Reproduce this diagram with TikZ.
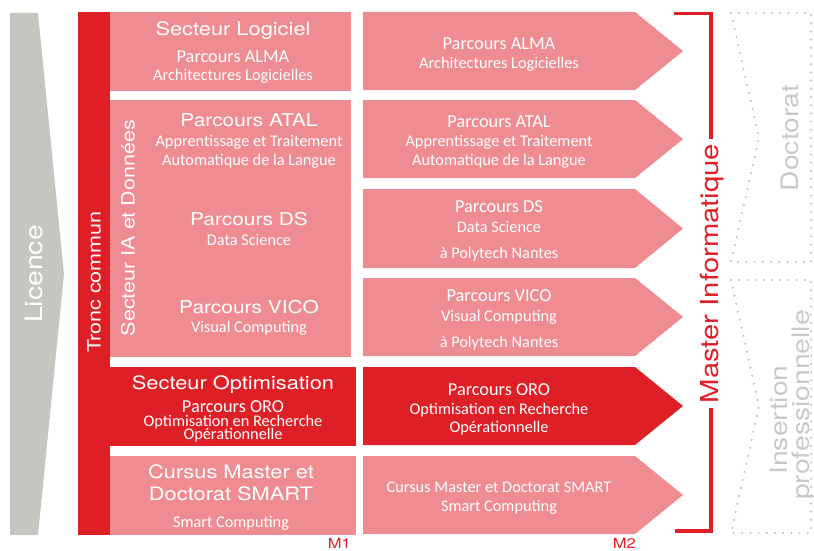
\documentclass[tikz,border=0pt]{standalone}
\usepackage{fontspec}
\setmainfont{Carlito}
\newfontfamily\headfont[FakeStretch=1.18]{TeX Gyre Heros}
\definecolor{masterred}{HTML}{DF1F26}
\definecolor{masterpink}{HTML}{EE8C92}
\definecolor{licencegrey}{HTML}{C5C6C0}
\definecolor{lightgrey}{HTML}{C9C9C5}
\definecolor{dotgrey}{HTML}{BDBDBB}

\begin{document}
\begin{tikzpicture}
	[
		x = 1pt, y = -1pt,
		txt/.style = {inner sep=0pt, anchor=center, text=white},
		head/.style = {txt, font=\headfont\fontsize{18.5}{20}\selectfont, text height=13.3pt, text depth=0pt},
		phead/.style = {txt, font=\headfont\fontsize{17.7}{19}\selectfont, text height=12.7pt, text depth=0pt},
		pname/.style = {txt, font=\fontsize{18.3}{19}\selectfont, text height=11.8pt, text depth=0pt},
		desc/.style = {txt, font=\fontsize{16.3}{17}\selectfont, text height=10.5pt, text depth=0pt},
		bigv/.style = {txt, rotate=90, font=\headfont\fontsize{24}{24}\selectfont, text height=17.2pt, text depth=0pt},
		smallv/.style = {txt, rotate=90, font=\headfont\fontsize{18.3}{19}\selectfont, text height=13.1pt, text depth=0pt},
		dots/.style = {draw=dotgrey, line width=2.2pt, line cap=round, dash pattern=on 0pt off 8.2pt},
		year/.style = {txt, text=masterred, font=\headfont\fontsize{14}{14}\selectfont, text height=10pt, text depth=0pt, anchor=east}
	]
	
	\useasboundingbox (0,0) rectangle (814,551);
	
	% licence
	\fill [licencegrey] (10,13) -- (38,13) -- (64,274) -- (38,535) -- (10,535) -- cycle;
	\node [bigv] (licence) at (34,274) {Licence};
	
	% tronc commun
	\fill [masterred] (78,12) rectangle (110,535);
	\node [smallv] (tronc) at (94,282) {Tronc commun};
	
	% M1
	\fill [masterpink] (110,12) rectangle (351,91);
	\node [head] (seclog) at (233,29.3) {Secteur Logiciel};
	\node [pname] (alma1) at (233,56.5) {Parcours ALMA};
	\node [desc] (alma1d) at (233,75) {Architectures Logicielles};
	
	\fill [masterpink] (110,100) rectangle (351,357);
	\node [smallv] (secia) at (128,228) {Secteur IA et Données};
	\node [phead] (atal1) at (249,120) {Parcours ATAL};
	\node [desc] (atal1a) at (249,141) {Apprentissage et Traitement};
	\node [desc] (atal1b) at (249,160) {Automatique de la Langue};
	\node [phead] (ds1) at (249,219) {Parcours DS};
	\node [desc] (ds1d) at (249,240) {Data Science};
	\node [phead] (vico1) at (249,307.5) {Parcours VICO};
	\node [desc] (vico1d) at (249,327.5) {Visual Computing};
	
	\fill [masterred] (110,367) rectangle (356,446);
	\node [head] (secopt) at (233,382.5) {Secteur Optimisation};
	\node [pname] (oro1) at (233,407) {Parcours ORO};
	\node [desc] (oro1a) at (233,421.5) {Optimisation en Recherche};
	\node [desc] (oro1b) at (233,434) {Opérationnelle};
	
	\fill [masterpink] (110,456) rectangle (356,535);
	\node [head] (smart1a) at (231,472) {Cursus Master et};
	\node [head] (smart1b) at (231,494) {Doctorat SMART};
	\node [desc] (smart1d) at (231,522.5) {Smart Computing};
	
	\node [year] (m1) at (351,543.5) {M1};
	
	% M2
	\fill [masterpink] (363,12) -- (635,12) -- (683,51) -- (635,90) -- (363,90) -- cycle;
	\fill [masterpink] (363,100) -- (635,100) -- (683,139) -- (635,178) -- (363,178) -- cycle;
	\fill [masterpink] (363,189) -- (635,189) -- (683,228.5) -- (635,268) -- (363,268) -- cycle;
	\fill [masterpink] (363,278) -- (635,278) -- (683,317) -- (635,356) -- (363,356) -- cycle;
	\fill [masterred] (363,367) -- (635,367) -- (683,406) -- (635,445) -- (363,445) -- cycle;
	\fill [masterpink] (363,456) -- (635,456) -- (683,495) -- (635,534) -- (363,534) -- cycle;
	
	\node [pname] (alma2) at (499,43.3) {Parcours ALMA};
	\node [desc] (alma2d) at (499,62.8) {Architectures Logicielles};
	
	\node [pname] (atal2) at (499,122) {Parcours ATAL};
	\node [desc] (atal2a) at (499,141) {Apprentissage et Traitement};
	\node [desc] (atal2b) at (499,160) {Automatique de la Langue};
	
	\node [pname] (ds2) at (499,207) {Parcours DS};
	\node [desc] (ds2d) at (499,227) {Data Science};
	\node [desc] (ds2p) at (499,253) {à Polytech Nantes};
	
	\node [pname] (vico2) at (499,296) {Parcours VICO};
	\node [desc] (vico2d) at (499,316) {Visual Computing};
	\node [desc] (vico2p) at (499,342) {à Polytech Nantes};
	
	\node [pname] (oro2) at (499,389.5) {Parcours ORO};
	\node [desc] (oro2a) at (499,409) {Optimisation en Recherche};
	\node [desc] (oro2b) at (499,427) {Opérationnelle};
	
	\node [desc] (smart2a) at (499,487) {Cursus Master et Doctorat SMART};
	\node [desc] (smart2d) at (499,506) {Smart Computing};
	
	\node [year] (m2) at (636,543.5) {M2};
	
	% master bracket
	\draw [masterred, line width=3.2pt] (674,13.5) -- (711,13.5) -- (711,531) -- (675,531);
	\node [bigv, text=masterred, fill=white, inner xsep=5pt, font=\headfont\fontsize{24.8}{25}\selectfont, text height=17.8pt] (master) at (710,273.5) {Master Informatique};
	
	% after the master
	\draw [dots] (731,13) -- (811,13) -- (811,262) -- (731,262) -- (759,138) -- cycle;
	\draw [dots] (731,280) -- (811,280) -- (811,533) -- (731,533) -- (759,406) -- cycle;
	
	\node [bigv, text=lightgrey] (doctorat) at (789.5,138) {Doctorat};
	\node [bigv, text=lightgrey] (insertion) at (779,420) {Insertion};
	\node [bigv, text=lightgrey] (pro) at (801,405) {professionnelle};
	
\end{tikzpicture}
\end{document}
